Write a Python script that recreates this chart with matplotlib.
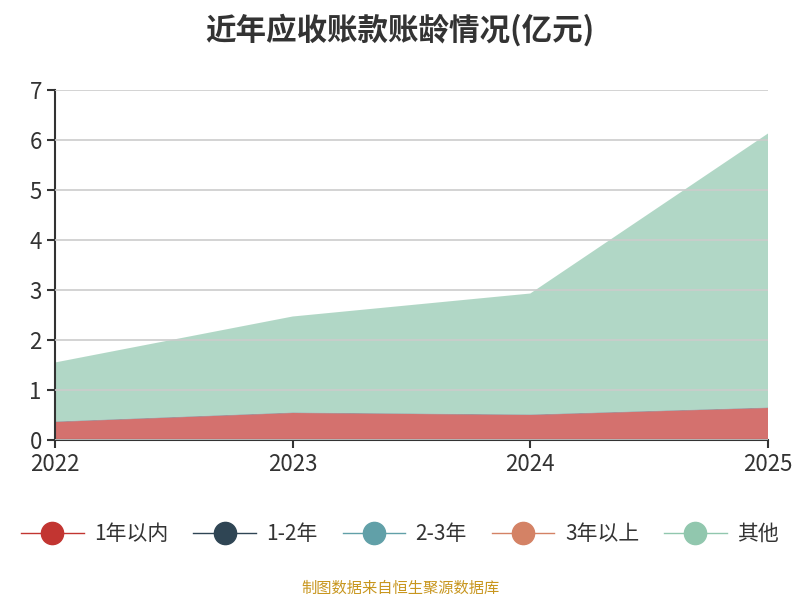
import matplotlib

matplotlib.use("Agg")
import matplotlib.pyplot as plt
from matplotlib.lines import Line2D

plt.rcParams["font.family"] = ["Noto Sans CJK SC", "DejaVu Sans"]

years = ["2022", "2023", "2024", "2025"]
within_1y = [0.36, 0.54, 0.50, 0.64]
y1_2 = [0.01, 0.01, 0.01, 0.01]
y2_3 = [0.0, 0.0, 0.0, 0.0]
over_3y = [0.0, 0.0, 0.0, 0.0]
other = [1.18, 1.92, 2.42, 5.48]

names = ["1年以内", "1-2年", "2-3年", "3年以上", "其他"]
colors = ["#c23531", "#2f4554", "#61a0a8", "#d48265", "#91c7ae"]

fig = plt.figure(figsize=(8, 6), dpi=100)
ax = fig.add_axes([55 / 800, 160 / 600, 713 / 800, 350 / 600])

x = list(range(len(years)))
ax.stackplot(x, within_1y, y1_2, y2_3, over_3y, other, colors=colors, alpha=0.7, linewidth=0)

ax.set_xlim(0, 3)
ax.set_ylim(0, 7)
ax.set_xticks(x, years)
ax.set_yticks(range(8))
ax.grid(axis="y", color="#cccccc", linewidth=1.2)
ax.set_axisbelow(False)
for s in ["top", "right"]:
    ax.spines[s].set_visible(False)
for s in ["left", "bottom"]:
    ax.spines[s].set_color("#333333")
    ax.spines[s].set_linewidth(1.5)
ax.tick_params(labelsize=16, colors="#333333", length=6, width=1.5)
for lbl in ax.get_xticklabels() + ax.get_yticklabels():
    lbl.set_color("#333333")

fig.text(0.5, 0.95, "近年应收账款账龄情况(亿元)", ha="center", va="center",
         fontsize=22, fontweight="bold", color="#333333")

handles = [Line2D([], [], color=c, marker="o", markersize=16, linewidth=1) for c in colors]
fig.legend(handles, names, loc="center", bbox_to_anchor=(0.5, 0.11), ncol=5,
           frameon=False, fontsize=15, handlelength=3.0, columnspacing=1.2,
           handletextpad=0.5, labelcolor="#333333")

fig.text(0.5, 0.02, "制图数据来自恒生聚源数据库", ha="center", va="center",
         fontsize=11, color="#c8961e")

fig.savefig("out.png")
